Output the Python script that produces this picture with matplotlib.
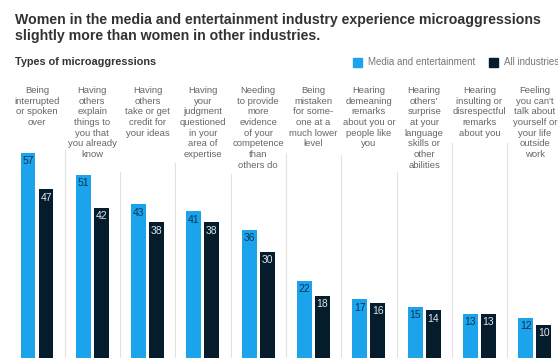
import matplotlib.pyplot as plt
import numpy as np

plt.rcParams["font.family"] = ["Liberation Sans", "DejaVu Sans"]

categories = [
    "Being\ninterrupted\nor spoken\nover",
    "Having\nothers\nexplain\nthings to\nyou that\nyou already\nknow",
    "Having\nothers\ntake or get\ncredit for\nyour ideas",
    "Having\nyour\njudgment\nquestioned\nin your\narea of\nexpertise",
    "Needing\nto provide\nmore\nevidence\nof your\ncompetence\nthan\nothers do",
    "Being\nmistaken\nfor some-\none at a\nmuch lower\nlevel",
    "Hearing\ndemeaning\nremarks\nabout you or\npeople like\nyou",
    "Hearing\nothers'\nsurprise\nat your\nlanguage\nskills or\nother\nabilities",
    "Hearing\ninsulting or\ndisrespectful\nremarks\nabout you",
    "Feeling\nyou can't\ntalk about\nyourself or\nyour life\noutside\nwork",
]
media = [57, 51, 43, 41, 36, 22, 17, 15, 13, 12]
all_ind = [47, 42, 38, 38, 30, 18, 16, 14, 13, 10]

LIGHT = "#1ba3ec"
DARK = "#051c2c"

W, H = 558, 358
fig = plt.figure(figsize=(W / 100, H / 100), dpi=100)

# plot area: from the bottom edge up to y=140px
ax = fig.add_axes([0, 0, 1, 1 - 140 / H])
x = np.arange(len(categories))
bw = 0.27
off = 0.163
ax.bar(x - off, media, bw, color=LIGHT)
ax.bar(x + off, all_ind, bw, color=DARK)
ax.set_xlim(-0.669, 9.42)
ax.set_ylim(0.98, 60.5)
ax.axis("off")

for i in range(len(categories)):
    ax.annotate(str(media[i]), (x[i] - off, media[i]), xytext=(0, -2.5),
                textcoords="offset points", ha="center", va="top",
                fontsize=7.5, color="#0a3556")
    ax.annotate(str(all_ind[i]), (x[i] + off, all_ind[i]), xytext=(0, -2.5),
                textcoords="offset points", ha="center", va="top",
                fontsize=7.5, color="#dfe6ec")

# thin separators between groups, starting just under the labels (px from top)
sep_top = [150, 172, 163, 174, 153, 155, 172, 143, 143]
trans = ax.get_xaxis_transform()
for i, top in enumerate(sep_top):
    ax.plot([i + 0.5, i + 0.5], [0, (H - top) / (H - 140)], transform=trans,
            color="#e2e2e2", lw=0.8, clip_on=False)

# category labels above the columns
for i, lab in enumerate(categories):
    ax.text(x[i], 1 + (140 - 86) / (H - 140), lab, transform=trans,
            ha="center", va="top", fontsize=6.8, color="#666666",
            linespacing=1.24, clip_on=False)

fig.text(15 / W, 1 - 13 / H,
         "Women in the media and entertainment industry experience microaggressions\n"
         "slightly more than women in other industries.",
         ha="left", va="top", fontsize=10.2, fontweight="bold", color="#333333",
         linespacing=1.22)
fig.text(15 / W, 1 - 62 / H, "Types of microaggressions", ha="left",
         va="center", fontsize=7.8, fontweight="bold", color="#333333")

# legend
fig.patches.append(plt.Rectangle((353 / W, 1 - 66.5 / H), 8.5 / W, 8.5 / H,
                                 transform=fig.transFigure, color=LIGHT))
fig.text(368 / W, 1 - 62 / H, "Media and entertainment", ha="left",
         va="center", fontsize=7, color="#777777")
fig.patches.append(plt.Rectangle((489 / W, 1 - 66.5 / H), 8.5 / W, 8.5 / H,
                                 transform=fig.transFigure, color=DARK))
fig.text(504 / W, 1 - 62 / H, "All industries", ha="left",
         va="center", fontsize=7, color="#777777")

fig.savefig("out.png", dpi=100)
